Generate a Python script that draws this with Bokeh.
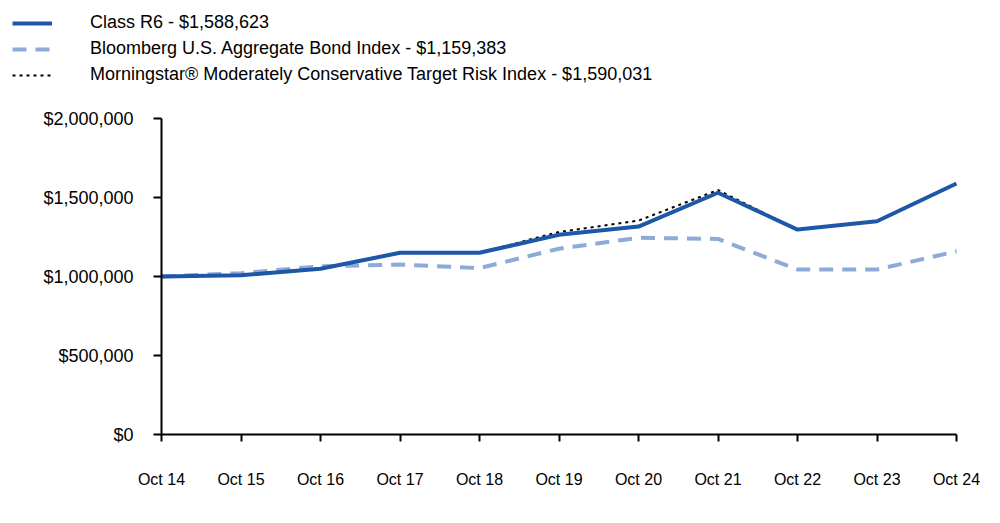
from bokeh.plotting import figure
from bokeh.models import Legend, LegendItem, FixedTicker, NumeralTickFormatter, Range1d, CustomJSTickFormatter
from bokeh.embed import file_html
from bokeh.resources import INLINE

years = ["Oct 14", "Oct 15", "Oct 16", "Oct 17", "Oct 18", "Oct 19", "Oct 20", "Oct 21", "Oct 22", "Oct 23", "Oct 24"]
class_r6 = [1000000, 1008000, 1049000, 1150000, 1150000, 1264000, 1316000, 1530000, 1297000, 1350000, 1588623]
bloomberg = [1000000, 1021000, 1065000, 1076000, 1053000, 1176000, 1245000, 1238000, 1044000, 1044000, 1159383]
morningstar = [1000000, 1010000, 1052000, 1152000, 1150000, 1282000, 1354000, 1547000, 1296000, 1350000, 1590031]
y_ticks = [0, 500000, 1000000, 1500000, 2000000]

labels = [
    "Class R6 - $1,588,623",
    "Bloomberg U.S. Aggregate Bond Index - $1,159,383",
    "Morningstar\u00ae Moderately Conservative Target Risk Index - $1,590,031",
]

font = "Liberation Sans"
x = list(range(len(years)))
n = len(years) - 1
y_max = max(y_ticks)

# layout in pixels: the frame fills the whole canvas; axes sit at fixed data locations
W, H = 1000, 523
axis_x, axis_right, axis_top, axis_bottom = 161, 956, 118, 434
px_per_x = (axis_right - axis_x) / n
px_per_y = (axis_bottom - axis_top) / y_max

p = figure(width=W, height=H, output_backend="svg", toolbar_location=None,
           x_range=Range1d(-axis_x / px_per_x, n + (W - axis_right) / px_per_x),
           y_range=Range1d(-(H - axis_bottom) / px_per_y, axis_bottom / px_per_y),
           min_border_left=0, min_border_right=0, min_border_top=0, min_border_bottom=0)
p.outline_line_color = None
p.grid.visible = False

r_b = p.line(x, bloomberg, line_color="#8eaad8", line_width=4, line_dash="14 9")
r_m = p.line(x, morningstar, line_color="black", line_width=2, line_dash="3 4")
r_r = p.line(x, class_r6, line_color="#1c58a7", line_width=4)

p.yaxis.fixed_location = 0
p.yaxis.bounds = (0, y_max)
p.yaxis.ticker = FixedTicker(ticks=y_ticks)
p.yaxis.formatter = NumeralTickFormatter(format="$0,0")
p.yaxis.major_label_text_font = font
p.yaxis.major_label_text_font_size = "18px"
p.yaxis.major_label_text_color = "black"
p.yaxis.major_tick_out = 8
p.yaxis.major_tick_in = 0
p.yaxis.minor_tick_line_color = None
p.yaxis.axis_line_color = "black"
p.yaxis.axis_line_width = 2
p.yaxis.major_tick_line_width = 2
p.yaxis.major_label_standoff = 20

p.xaxis.fixed_location = 0
p.xaxis.bounds = (0, n)
p.xaxis.ticker = FixedTicker(ticks=x)
p.xaxis.formatter = CustomJSTickFormatter(args=dict(labels=years), code="return labels[Math.round(tick)];")
p.xaxis.major_label_text_font = font
p.xaxis.major_label_text_font_size = "16px"
p.xaxis.major_label_text_color = "black"
p.xaxis.major_tick_out = 7
p.xaxis.major_tick_in = 0
p.xaxis.minor_tick_line_color = None
p.xaxis.axis_line_color = "black"
p.xaxis.axis_line_width = 2
p.xaxis.major_tick_line_width = 2
p.xaxis.major_label_standoff = 29

legend = Legend(items=[
    LegendItem(label=labels[0], renderers=[r_r]),
    LegendItem(label=labels[1], renderers=[r_b]),
    LegendItem(label=labels[2], renderers=[r_m]),
], location=(12, H - 85))
legend.padding = 0
legend.margin = 0
legend.spacing = 5
legend.glyph_width = 40
legend.glyph_height = 20
legend.label_height = 20
legend.label_standoff = 38
legend.label_text_font = font
legend.label_text_font_size = "18px"
legend.label_text_color = "black"
legend.background_fill_alpha = 0
legend.border_line_color = None
p.add_layout(legend, "center")

open("out.html", "w").write(file_html(p, INLINE))
